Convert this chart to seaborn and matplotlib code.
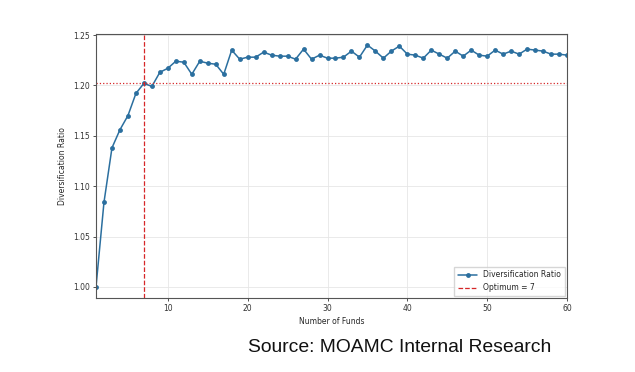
import numpy as np
import pandas as pd
import matplotlib
matplotlib.use("Agg")
import matplotlib.pyplot as plt
import seaborn as sns

# Diversification ratio per number of funds
n_funds = list(range(1, 61))
div_ratio = [
    1.000, 1.084, 1.138, 1.156, 1.170, 1.192, 1.202, 1.199, 1.213, 1.217,
    1.224, 1.223, 1.211, 1.224, 1.222, 1.221, 1.211, 1.235, 1.226, 1.228,
    1.228, 1.233, 1.230, 1.229, 1.229, 1.226, 1.236, 1.226, 1.230, 1.227,
    1.227, 1.228, 1.234, 1.228, 1.240, 1.234, 1.227, 1.234, 1.239, 1.231,
    1.230, 1.227, 1.235, 1.231, 1.227, 1.234, 1.229, 1.235, 1.230, 1.229,
    1.235, 1.231, 1.234, 1.231, 1.236, 1.235, 1.234, 1.231, 1.231, 1.230,
]
optimum = 7
source_note = "Source: MOAMC Internal Research"

df = pd.DataFrame({"Number of Funds": n_funds, "Diversification Ratio": div_ratio})
opt_value = df.loc[df["Number of Funds"] == optimum, "Diversification Ratio"].iloc[0]

sns.set_style("ticks")
plt.rcParams["font.family"] = ["DejaVu Sans"]

fig = plt.figure(figsize=(6.35, 3.72), dpi=100)
ax = fig.add_axes([96 / 635, 1 - 298 / 372, 471 / 635, 264 / 372])

sns.lineplot(data=df, x="Number of Funds", y="Diversification Ratio", ax=ax,
             color="#2b6f9f", marker="o", markersize=3.5, markeredgewidth=0,
             linewidth=1.1, label="Diversification Ratio")
ax.axvline(optimum, color="#d62728", linestyle="--", linewidth=0.9,
           label=f"Optimum = {optimum}")
ax.axhline(opt_value, color="#d62728", linestyle=":", linewidth=0.9)

ax.set_xlim(1, 60)
ax.set_ylim(0.989, 1.251)
ax.set_xticks([10, 20, 30, 40, 50, 60])
ax.set_yticks(np.arange(1.00, 1.2501, 0.05))
ax.yaxis.set_major_formatter(matplotlib.ticker.FormatStrFormatter("%.2f"))
ax.grid(True, color="#e6e6e6", linewidth=0.6)
ax.tick_params(labelsize=5.5, length=2.5, width=0.6, colors="#333333", pad=2)
for s in ax.spines.values():
    s.set_color("#555555")
    s.set_linewidth(0.8)
ax.set_xlabel("Number of Funds", fontsize=5.5, labelpad=3)
ax.set_ylabel("Diversification Ratio", fontsize=5.5, labelpad=4)
ax.legend(loc="lower right", fontsize=5.5, frameon=True, fancybox=False,
          edgecolor="#cccccc", borderpad=0.5, handlelength=2.5,
          borderaxespad=0.25)

fig.text(248 / 635, 1 - 347 / 372, source_note, fontsize=13.9,
         family="Liberation Sans", va="center", ha="left", color="#111111")

fig.savefig("out.png", dpi=100)
